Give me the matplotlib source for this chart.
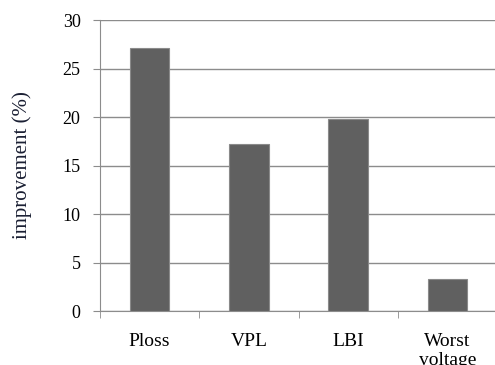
import matplotlib
matplotlib.use("Agg")
import matplotlib.pyplot as plt
import numpy as np

categories = ["Ploss", "VPL", "LBI", "Worst\nvoltage"]
improvement = [27.1, 17.2, 19.8, 3.3]
yticks = [0, 5, 10, 15, 20, 25, 30]

plt.rcParams['font.family'] = ['Liberation Serif', 'DejaVu Serif']

fig = plt.figure(figsize=(4.95, 3.65), dpi=100)
ax = fig.add_axes([100 / 495, 1 - 311 / 365, 397 / 495, 291 / 365])

x = np.arange(len(categories))
ax.bar(x, improvement, width=0.4, color='#606060', edgecolor='#8a8a8a', linewidth=0.8, zorder=3)

ax.set_xlim(-0.5, len(categories) - 0.5)
ax.set_ylim(0, 30)
ax.set_yticks(yticks)
ax.yaxis.grid(True, color='#8c8c8c', linewidth=1)
ax.set_axisbelow(True)

ax.set_xticks(x)
ax.set_xticklabels(categories, fontsize=14, linespacing=1.15)
ax.set_xticks(np.arange(len(categories) + 1) - 0.5, minor=True)
ax.tick_params(axis='x', which='major', length=0, pad=16)
ax.tick_params(axis='x', which='minor', length=5, color='#8c8c8c', direction='out')
ax.tick_params(axis='y', length=5, color='#8c8c8c', labelsize=13, pad=9)

for side in ['top', 'right']:
    ax.spines[side].set_visible(False)
for side in ['left', 'bottom']:
    ax.spines[side].set_color('#8c8c8c')

ax.set_ylabel("improvement (%)", fontsize=15, color='#1a1f33', labelpad=22)

fig.savefig("out.png", dpi=100)
